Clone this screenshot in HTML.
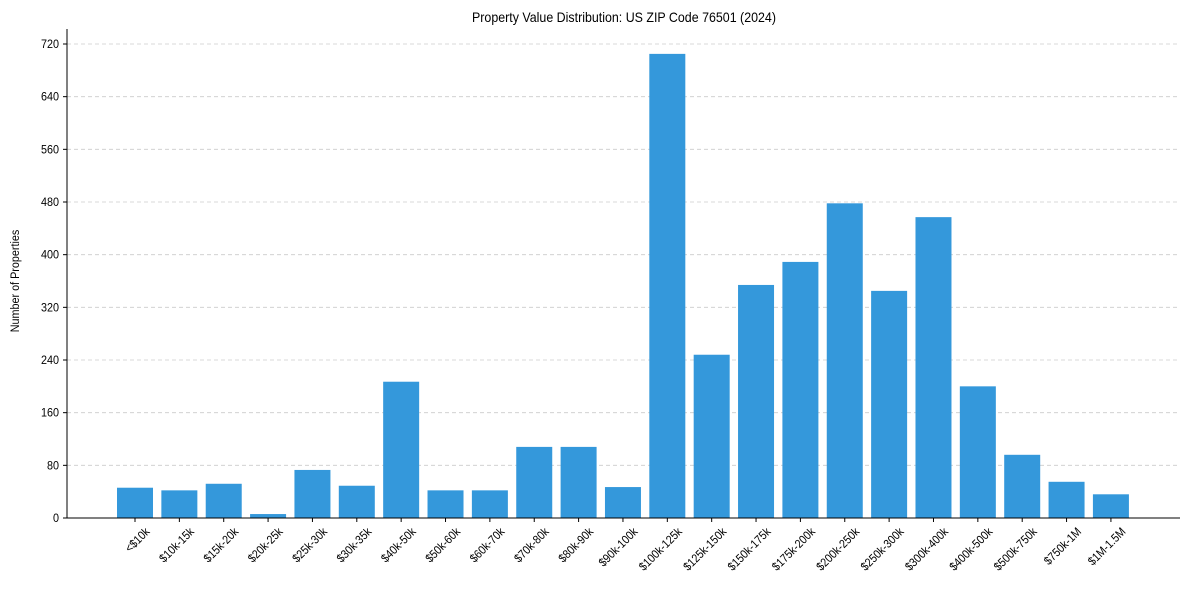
<!DOCTYPE html>
<html><head><meta charset="utf-8"><style>
body{margin:0;background:#fff;}
svg{display:block;font-family:"Liberation Sans",Arial,sans-serif;}
</style></head><body>
<svg id="chart" width="1189" height="590">
<text x="624" y="22" text-anchor="middle" font-size="13.5" transform="translate(624,0) scale(0.92,1) translate(-624,0)">Property Value Distribution: US ZIP Code 76501 (2024)</text>
<text transform="translate(19,281) rotate(-90) scale(0.9,1)" text-anchor="middle" font-size="12">Number of Properties</text>
<g id="grid"></g><g id="bars"></g><g id="axes"></g>
</svg>
<script>
const categories=["<$10k","$10k-15k","$15k-20k","$20k-25k","$25k-30k","$30k-35k","$40k-50k","$50k-60k","$60k-70k","$70k-80k","$80k-90k","$90k-100k","$100k-125k","$125k-150k","$150k-175k","$175k-200k","$200k-250k","$250k-300k","$300k-400k","$400k-500k","$500k-750k","$750k-1M","$1M-1.5M"];
const counts=[46,42,52,6,73,49,207,42,42,108,108,47,705,248,354,389,478,345,457,200,96,55,36];
const yTicks=[0,80,160,240,320,400,480,560,640,720];
const NS="http://www.w3.org/2000/svg";
const L=67,R=1180,T=44,B=518,yMax=720;
const y=v=>B-(v/yMax)*(B-T);
const step=44.36,x0=135;
const x=i=>x0+i*step;
function mk(tag,attrs,parent){const e=document.createElementNS(NS,tag);for(const k in attrs)e.setAttribute(k,attrs[k]);parent.appendChild(e);return e;}
const grid=document.getElementById('grid'),bars=document.getElementById('bars'),axes=document.getElementById('axes');
yTicks.forEach(t=>{
  if(t>0){const g=mk('line',{x1:L,x2:R,y1:y(t),y2:y(t),stroke:'#ccc','stroke-dasharray':'4,3','stroke-width':0.8},grid);
  
  }
  mk('line',{x1:L-4,x2:L,y1:y(t),y2:y(t),stroke:'#000'},axes);
  const lb=mk('text',{transform:`translate(${L-8},${y(t)+4}) scale(0.9,1)`,'text-anchor':'end','font-size':12},axes);
  lb.textContent=t;
  
  
});
const bw=36;
categories.forEach((c,i)=>{
  const r=mk('rect',{x:x(i)-bw/2,y:y(counts[i]),width:bw,height:B-y(counts[i]),fill:'#3498db'},bars);
  
  
  mk('line',{x1:x(i),x2:x(i),y1:B,y2:B+4,stroke:'#000'},axes);
  const lb=mk('text',{transform:`translate(${x(i)+10},${B+9}) rotate(-45) scale(0.88,1)`,'text-anchor':'end','font-size':12,'dominant-baseline':'hanging'},axes);
  lb.textContent=c;
  
  
});
const ax=mk('line',{x1:L,x2:L,y1:T-15,y2:B,stroke:'#000','stroke-width':1},axes);


const bx=mk('line',{x1:L,x2:R,y1:B,y2:B,stroke:'#000','stroke-width':1},axes);


</script>
</body></html>
